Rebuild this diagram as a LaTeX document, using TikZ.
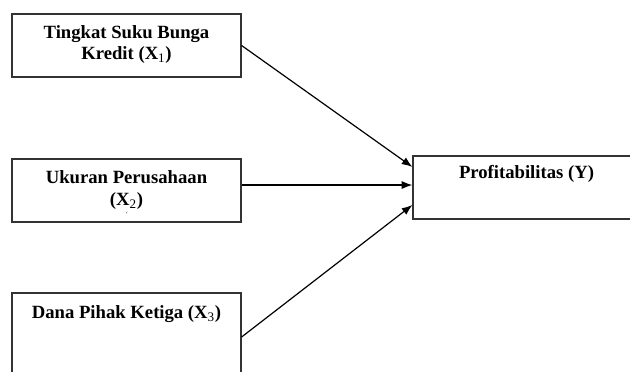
\documentclass[tikz,border=0pt]{standalone}
\usepackage{fontspec}
\setmainfont{Liberation Serif}
\usetikzlibrary{arrows.meta}
\tikzset{
  var-box/.style={draw=black!80, line width=0.9pt, minimum width=171.75pt, minimum height=47.25pt, inner sep=0pt},
  var-label/.style={font=\bfseries\fontsize{14}{16.3}\selectfont, align=center, inner sep=0pt, anchor=north},
  var-arrow/.style={-{Latex[length=8pt,width=6pt]}, line width=0.9pt}
}
\newcommand{\subidx}[1]{\textsubscript{\mdseries #1}}

\begin{document}
\begin{tikzpicture}[x=0.75pt, y=-0.75pt]
  \clip (0,0) rectangle (630,371);

  % independent variables
  \node[var-box] (bunga) at (126.5,45.5) {};
  \node[var-label] (bunga-txt) at (126.5,25) {Tingkat Suku Bunga\\Kredit (X\subidx{1})};

  \node[var-box] (ukuran) at (126.5,190.5) {};
  \node[var-label] (ukuran-txt) at (126.5,170.5) {Ukuran Perusahaan\\(X\subidx{2})};
  \node[font=\tiny, inner sep=0pt] (ukuran-mark) at (127,214) {`};

  \node[var-box, minimum height=70.5pt] (dana) at (126.5,340) {};
  \node[var-label] (dana-txt) at (126.5,305.4) {Dana Pihak Ketiga (X\subidx{3})};

  % dependent variable
  \node[var-box, minimum width=170.25pt] (profit) at (526.5,187.5) {};
  \node[var-label] (profit-txt) at (526.5,165) {Profitabilitas (Y)};

  % arrows
  \coordinate (ukuran-out) at ([yshift=4.1pt]ukuran.east);
  \draw[var-arrow] (bunga.east) -- ([yshift=15.4pt]profit.west);
  \draw[var-arrow] (ukuran-out) -- (ukuran-out -| profit.west);
  \draw[var-arrow] ([yshift=2.25pt]dana.east) -- ([yshift=-13.1pt]profit.west);
\end{tikzpicture}
\end{document}
